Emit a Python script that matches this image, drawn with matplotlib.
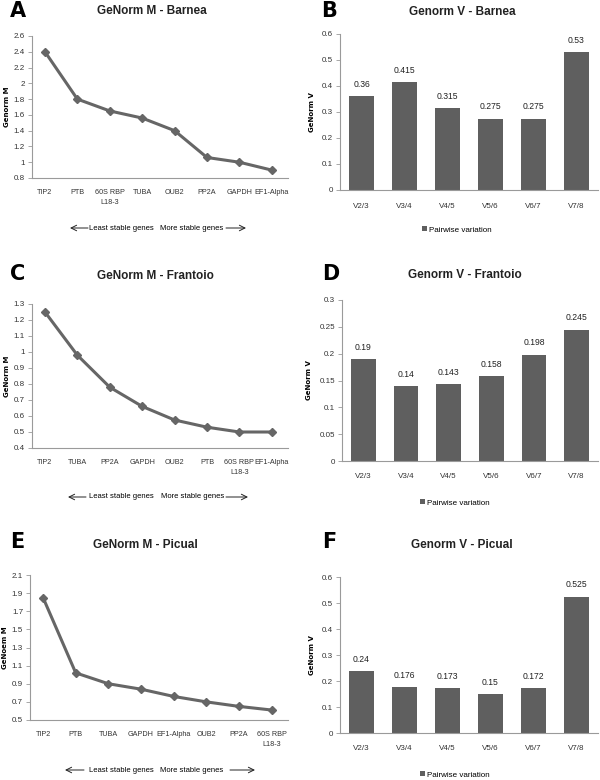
import matplotlib.pyplot as plt
import numpy as np

plt.rcParams['font.family'] = ['Liberation Sans', 'DejaVu Sans']

# data
genes_a = ["TIP2", "PTB", "60S RBP\nL18-3", "TUBA", "OUB2", "PP2A", "GAPDH", "EF1-Alpha"]
m_a = [2.4, 1.8, 1.65, 1.56, 1.4, 1.06, 1.0, 0.9]
genes_c = ["TIP2", "TUBA", "PP2A", "GAPDH", "OUB2", "PTB", "60S RBP\nL18-3", "EF1-Alpha"]
m_c = [1.25, 0.98, 0.78, 0.66, 0.575, 0.53, 0.5, 0.5]
genes_e = ["TIP2", "PTB", "TUBA", "GAPDH", "EF1-Alpha", "OUB2", "PP2A", "60S RBP\nL18-3"]
m_e = [1.85, 1.02, 0.9, 0.84, 0.76, 0.7, 0.65, 0.61]

pairs = ["V2/3", "V3/4", "V4/5", "V5/6", "V6/7", "V7/8"]
v_b = [0.36, 0.415, 0.315, 0.275, 0.275, 0.53]
v_b_lbl = ["0.36", "0.415", "0.315", "0.275", "0.275", "0.53"]
v_d = [0.19, 0.14, 0.143, 0.158, 0.198, 0.245]
v_d_lbl = ["0.19", "0.14", "0.143", "0.158", "0.198", "0.245"]
v_f = [0.24, 0.176, 0.173, 0.15, 0.172, 0.525]
v_f_lbl = ["0.24", "0.176", "0.173", "0.15", "0.172", "0.525"]

gray = "#666666"
bar_c = "#5f5f5f"
axis_c = "#9a9a9a"
W, H = 600, 780

fig = plt.figure(figsize=(6, 7.8), dpi=100)


def fx(px):
    return px / W


def fy(py):
    return 1 - py / H


def style(ax):
    for s in ["top", "right"]:
        ax.spines[s].set_visible(False)
    for s in ["left", "bottom"]:
        ax.spines[s].set_color(axis_c)
        ax.spines[s].set_linewidth(0.8)
    ax.tick_params(labelsize=5.8, colors="#333333", length=3, width=0.6, pad=2)
    ax.tick_params(axis="both", color=axis_c)


def head(title, tx, ty, letter, lx, ly):
    fig.text(fx(tx), fy(ty), title, ha="center", va="center", fontsize=8.5,
             fontweight="bold", color="#222222")
    fig.text(fx(lx), fy(ly), letter, ha="left", va="top", family="DejaVu Sans",
             fontsize=15, fontweight="bold")


def arrows(ay, la, lt, mt, ra):
    fig.text(fx(lt), fy(ay), "Least stable genes", ha="right", va="center", fontsize=5.5)
    fig.text(fx(mt), fy(ay), "More stable genes", ha="left", va="center", fontsize=5.5)
    fig.add_artist(plt.Annotation("", xy=(fx(la[0]), fy(ay)), xytext=(fx(la[1]), fy(ay)),
                                  xycoords="figure fraction",
                                  arrowprops=dict(arrowstyle="->", lw=0.7, color="#222222",
                                                  shrinkA=0, shrinkB=0)))
    fig.add_artist(plt.Annotation("", xy=(fx(ra[1]), fy(ay)), xytext=(fx(ra[0]), fy(ay)),
                                  xycoords="figure fraction",
                                  arrowprops=dict(arrowstyle="->", lw=0.7, color="#222222",
                                                  shrinkA=0, shrinkB=0)))


def m_panel(rect, genes, vals, yt, ylab):
    ax = fig.add_axes(rect)
    x = np.arange(len(genes))
    ax.plot(x, vals, color=gray, lw=2.2, marker="D", ms=4.5, mfc=gray, mec=gray)
    ax.set_xlim(-0.4, len(genes) - 0.5)
    ax.set_ylim(yt[0], yt[-1])
    ax.set_yticks(yt)
    ax.set_yticklabels([f"{t:g}" for t in yt])
    ax.set_xticks(x)
    ax.set_xticklabels(genes, linespacing=1.6)
    style(ax)
    ax.tick_params(axis="x", length=0, pad=8, labelsize=5.2)
    ax.set_ylabel(ylab, family="DejaVu Sans", fontweight="bold", fontsize=5, labelpad=3)
    return ax


def v_panel(rect, vals, lbls, yt, leg_x, leg_y):
    ax = fig.add_axes(rect)
    x = np.arange(len(pairs))
    ax.bar(x, vals, width=0.58, color=bar_c, label="Pairwise variation")
    for xi, v, l in zip(x, vals, lbls):
        ax.text(xi, v + (yt[-1] * 0.045), l, ha="center", va="bottom", fontsize=6.2, color="#222222")
    ax.set_xlim(-0.5, len(pairs) - 0.5)
    ax.set_ylim(0, yt[-1])
    ax.set_yticks(yt)
    ax.set_yticklabels([f"{t:g}" for t in yt])
    ax.set_xticks(x)
    ax.set_xticklabels(pairs)
    style(ax)
    ax.tick_params(axis="x", length=0, pad=9)
    ax.set_ylabel("GeNorm V", family="DejaVu Sans", fontweight="bold", fontsize=5, labelpad=5)
    ax.legend(loc="center", bbox_to_anchor=(fx(leg_x), fy(leg_y)), bbox_transform=fig.transFigure,
              frameon=False, fontsize=5.8, handlelength=0.6, handleheight=0.6, handletextpad=0.3,
              borderpad=0.1)
    return ax


m_panel([fx(32), fy(178), fx(256), (178 - 36) / H], genes_a, m_a,
        [0.8, 1.0, 1.2, 1.4, 1.6, 1.8, 2.0, 2.2, 2.4, 2.6], "Genorm M")
head("GeNorm M - Barnea", 152, 11, "A", 10, 1)
arrows(228, (70, 88), 154, 160, (226, 246))

m_panel([fx(32), fy(448), fx(256), (448 - 304) / H], genes_c, m_c,
        [0.4, 0.5, 0.6, 0.7, 0.8, 0.9, 1.0, 1.1, 1.2, 1.3], "GeNorm M")
head("GeNorm M - Frantoio", 155, 276, "C", 10, 264)
arrows(497, (68, 86), 154, 161, (226, 248))

m_panel([fx(30), fy(720), fx(258), (720 - 575) / H], genes_e, m_e,
        [0.5, 0.7, 0.9, 1.1, 1.3, 1.5, 1.7, 1.9, 2.1], "GeNoem M")
head("GeNorm M - Picual", 145, 545, "E", 10, 532)
arrows(770, (65, 84), 154, 160, (230, 255))

v_panel([fx(340), fy(190), fx(258), (190 - 34) / H], v_b, v_b_lbl,
        [0, 0.1, 0.2, 0.3, 0.4, 0.5, 0.6], 457, 230)
head("Genorm V - Barnea", 462, 12, "B", 321, 1)

v_panel([fx(342), fy(461), fx(256), (461 - 300) / H], v_d, v_d_lbl,
        [0, 0.05, 0.1, 0.15, 0.2, 0.25, 0.3], 455, 503)
head("Genorm V - Frantoio", 465, 275, "D", 322, 264)

v_panel([fx(340), fy(733), fx(258), (733 - 577) / H], v_f, v_f_lbl,
        [0, 0.1, 0.2, 0.3, 0.4, 0.5, 0.6], 455, 775)
head("Genorm V - Picual", 462, 545, "F", 322, 532)

fig.savefig("out.png", dpi=100)
